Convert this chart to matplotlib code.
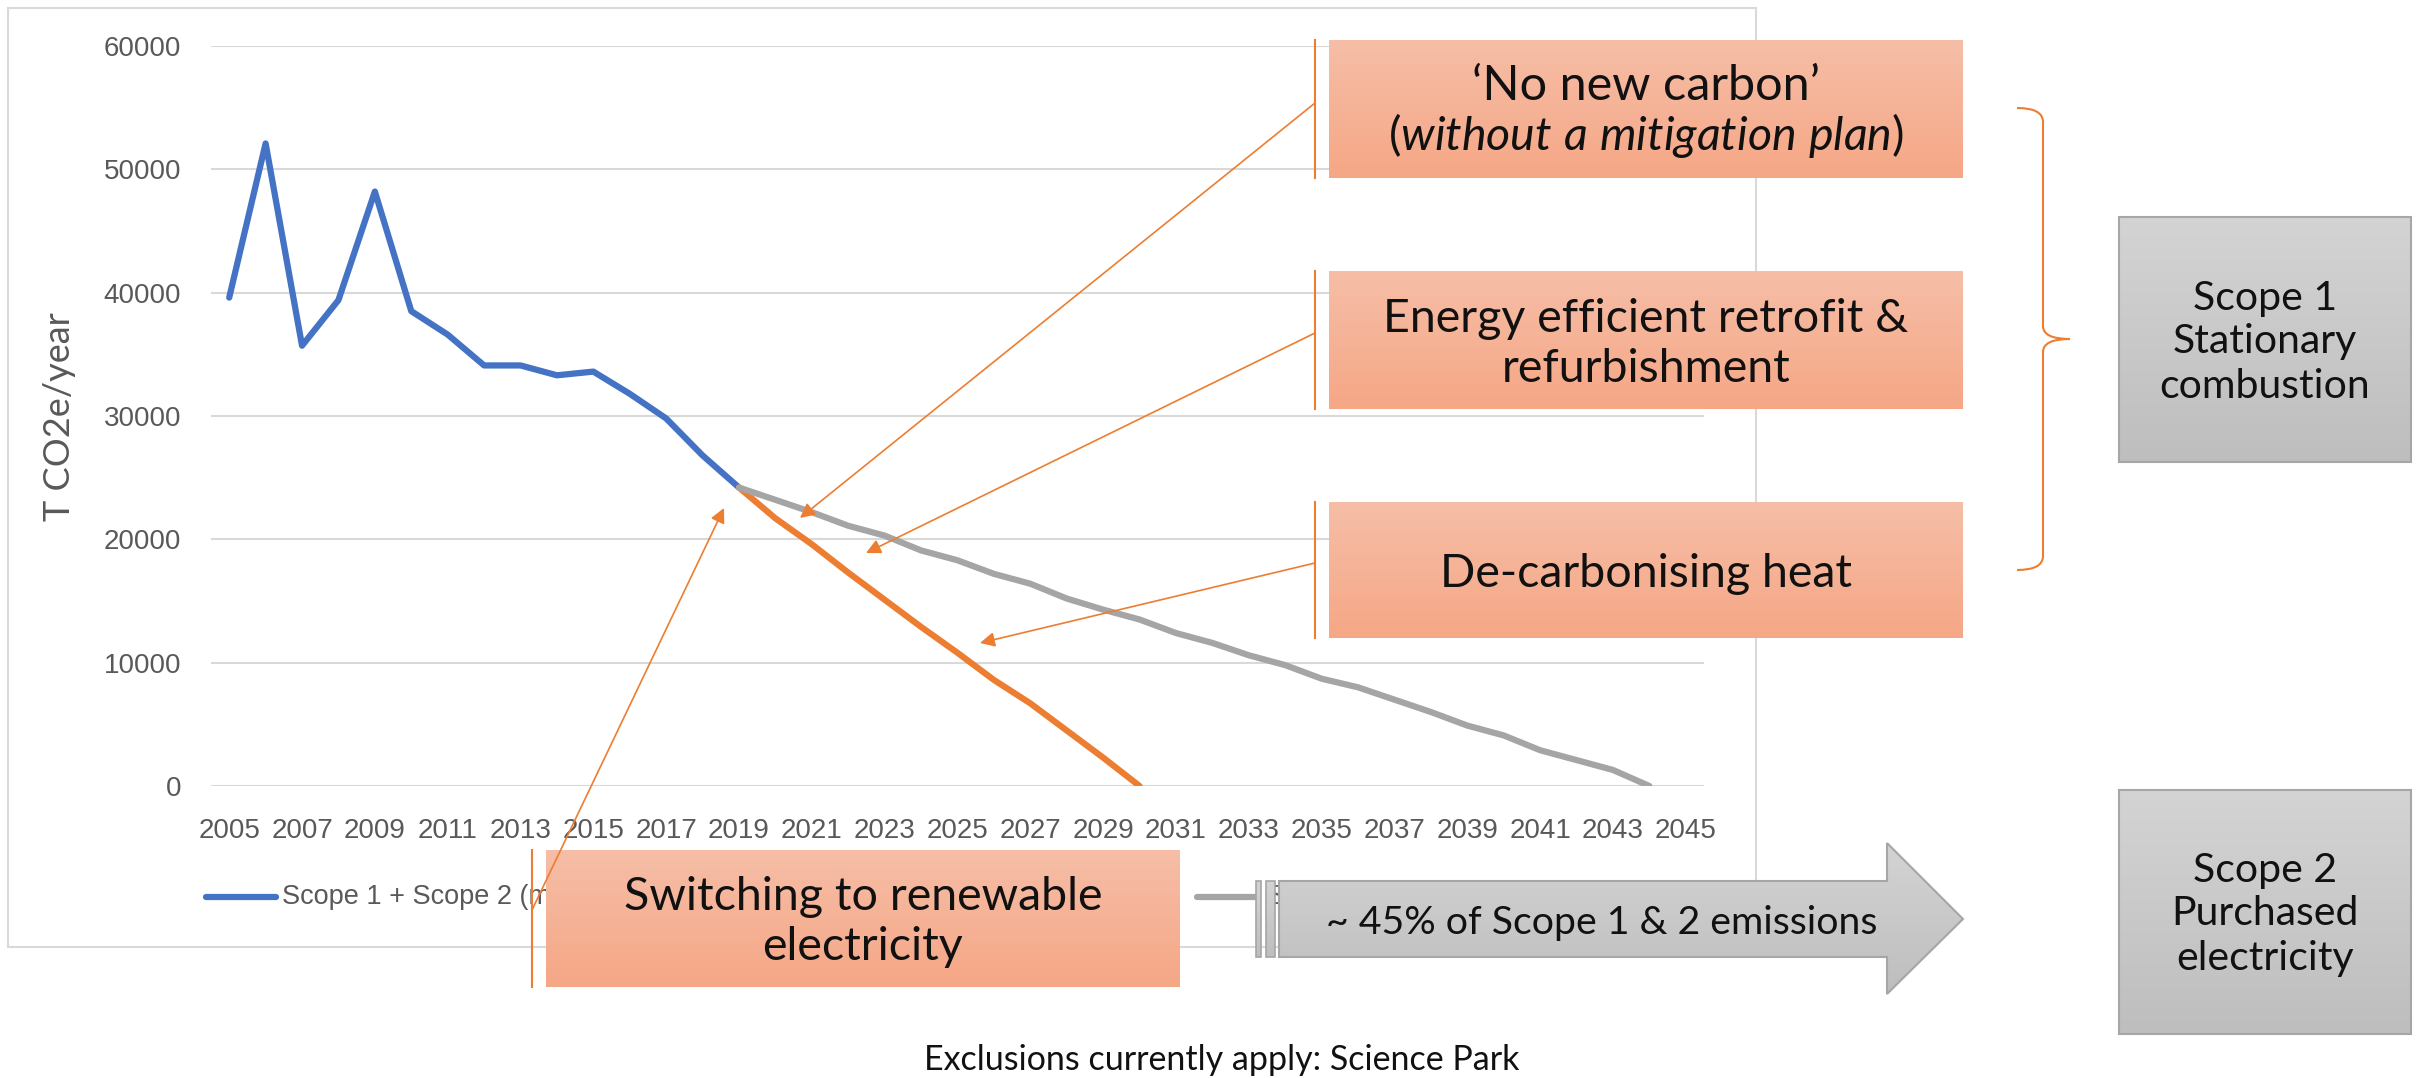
import matplotlib
matplotlib.use("Agg")
import matplotlib.pyplot as plt
import numpy as np
from matplotlib.lines import Line2D
from matplotlib.patches import Polygon, PathPatch, Rectangle
from matplotlib.path import Path

W, H = 2420, 1078

# data (t CO2e / year)
years = list(range(2005, 2046))
measured_years = list(range(2005, 2020))
measured = [39600, 52100, 35700, 39400, 48200, 38500, 36600, 34100, 34100,
            33300, 33600, 31800, 29800, 26800, 24200]
target_years = list(range(2019, 2031))
target = [24200, 21700, 19600, 17300, 15100, 12900, 10800, 8600, 6700,
          4500, 2300, 0]
bau_years = list(range(2019, 2045))
bau = [24200, 23200, 22200, 21100, 20300, 19100, 18300, 17200, 16400, 15200,
       14300, 13500, 12400, 11600, 10600, 9800, 8700, 8000, 7000, 6000, 4900,
       4100, 2900, 2100, 1300, 0]
tick_years = years[::2]
y_ticks = [0, 10000, 20000, 30000, 40000, 50000, 60000]
# legend entries as far as they show from behind the shapes
legend_labels = ["Scope 1 + Scope 2 (m", "S"]

BLUE = "#4472C4"
ORANGE = "#ED7D31"
GREY_LINE = "#A5A5A5"
TEXT = "#595959"
GRID = "#D9D9D9"
PEACH_TOP = (0.965, 0.745, 0.655)
PEACH_BOT = (0.961, 0.655, 0.525)
GREY_TOP = (0.83, 0.83, 0.83)
GREY_BOT = (0.745, 0.745, 0.745)
GREY_EDGE = "#A6A6A6"

plt.rcParams["font.family"] = ["Liberation Sans", "DejaVu Sans"]
plt.rcParams["mathtext.fontset"] = "custom"
plt.rcParams["mathtext.rm"] = "Lato"
plt.rcParams["mathtext.it"] = "Lato:italic"

fig = plt.figure(figsize=(W / 100, H / 100), dpi=100)

# background layer in pixel coordinates (chart frame + legend)
bg = fig.add_axes([0, 0, 1, 1], zorder=0)
bg.set_xlim(0, W)
bg.set_ylim(H, 0)
bg.axis("off")

# the chart itself
ax = fig.add_axes([211 / W, 1 - 786 / H, 1493 / W, 740 / H], zorder=1)
ax.patch.set_alpha(0)


def idx(ys):
    return [y - years[0] for y in ys]


lw = 4.5
ax.plot(idx(measured_years), measured, color=BLUE, lw=lw,
        solid_capstyle="round", solid_joinstyle="round", zorder=3)
ax.plot(idx(target_years), target, color=ORANGE, lw=lw,
        solid_capstyle="round", solid_joinstyle="round", zorder=3)
ax.plot(idx(bau_years), bau, color=GREY_LINE, lw=lw,
        solid_capstyle="round", solid_joinstyle="round", zorder=3)

ax.set_xlim(-0.5, len(years) - 0.5)
ax.set_ylim(0, 60000)
ax.set_xticks(idx(tick_years))
ax.set_xticklabels([str(y) for y in tick_years])
ax.set_yticks(y_ticks)
ax.set_yticklabels([str(v) for v in y_ticks])
ax.tick_params(axis="both", length=0, labelsize=20, labelcolor=TEXT)
ax.tick_params(axis="x", pad=23)
ax.tick_params(axis="y", pad=21.5)
ax.yaxis.grid(True, color=GRID, lw=1.5)
ax.set_axisbelow(True)
for s in ax.spines.values():
    s.set_visible(False)

# chart frame
bg.add_patch(Rectangle((8, 8), 1748, 939, fill=False, ec=GRID, lw=1.5, zorder=1))
bg.text(60, 417, "T CO2e/year", rotation=90, ha="center", va="center",
        fontsize=26, color=TEXT, family=["Lato", "DejaVu Sans"])

# legend (mostly hidden behind the shapes, as in the slide)
for (x0, x1, tx), col, lab in zip([(206, 276, 282), (1197, 1258, 1268)],
                                   [BLUE, GREY_LINE], legend_labels):
    bg.add_line(Line2D([x0, x1], [897, 897], color=col, lw=lw,
                       solid_capstyle="round", zorder=2))
    bg.text(tx, 897, lab, fontsize=19.5, color=TEXT, va="center", ha="left", zorder=2)

# top layer: call-out shapes
top = fig.add_axes([0, 0, 1, 1], zorder=2)
top.axis("off")


def grad_fill(x0, y0, x1, y1, c_top, c_bot, clip=None, z=3):
    t = np.linspace(0, 1, 64)[:, None]
    rgb = (1 - t) * np.array(c_top) + t * np.array(c_bot)
    im = top.imshow(rgb[:, None, :], extent=(x0, x1, y1, y0), aspect="auto",
                    interpolation="bilinear", zorder=z)
    if clip is not None:
        im.set_clip_path(clip)
    return im


box_font = ["Lato", "DejaVu Sans"]
INK = "#111111"

# orange action boxes: (x0, y0, x1, y1)
action_boxes = [(1329, 40, 1963, 178), (1329, 271, 1963, 409),
                (1329, 502, 1963, 638), (546, 850, 1180, 987)]
for (x0, y0, x1, y1) in action_boxes:
    grad_fill(x0, y0, x1, y1, PEACH_TOP, PEACH_BOT)
    lx = x0 - 14
    top.add_line(Line2D([lx, lx], [y0, y1], color=ORANGE, lw=1.5, zorder=3))

fs_box = 33.5
top.text(1646, 100, "\u2018No new carbon\u2019", ha="center", va="baseline",
         fontsize=35, family=box_font, color=INK, zorder=5)
top.text(1646, 150, r"($\mathit{without\ a\ mitigation\ plan}$)", ha="center",
         va="baseline", fontsize=fs_box, family=box_font, color=INK, zorder=5)
top.text(1646, 332, "Energy efficient retrofit &", ha="center", va="baseline",
         fontsize=fs_box, family=box_font, color=INK, zorder=5)
top.text(1646, 382, "refurbishment", ha="center", va="baseline",
         fontsize=fs_box, family=box_font, color=INK, zorder=5)
top.text(1646, 587, "De-carbonising heat", ha="center", va="baseline",
         fontsize=fs_box, family=box_font, color=INK, zorder=5)
top.text(863, 910, "Switching to renewable", ha="center", va="baseline",
         fontsize=fs_box, family=box_font, color=INK, zorder=5)
top.text(863, 960, "electricity", ha="center", va="baseline",
         fontsize=fs_box, family=box_font, color=INK, zorder=5)

# call-out arrows: (start on the orange rule, tip in the chart)
callouts = [((1315, 103), (800, 518)), ((1315, 333), (866, 553)),
            ((1315, 563), (980, 643)), ((532, 910), (724, 508))]
for start, tip in callouts:
    top.annotate("", xy=tip, xytext=start, zorder=4,
                 arrowprops=dict(arrowstyle="-|>", color=ORANGE, lw=1.2,
                                 mutation_scale=22, shrinkA=0, shrinkB=0))

# grey scope boxes
scope_boxes = [((2119, 217, 2411, 462), ["Scope 1", "Stationary", "combustion"], [310, 353, 398]),
               ((2119, 790, 2411, 1034), ["Scope 2", "Purchased", "electricity"], [882, 925, 970])]
fs_small = 29.5
for (x0, y0, x1, y1), lines, bases in scope_boxes:
    grad_fill(x0, y0, x1, y1, GREY_TOP, GREY_BOT)
    top.add_patch(Rectangle((x0, y0), x1 - x0, y1 - y0, fill=False, ec=GREY_EDGE,
                            lw=1.5, zorder=4))
    for s, b in zip(lines, bases):
        top.text((x0 + x1) / 2, b, s, ha="center", va="baseline", fontsize=fs_small,
                 family=box_font, color=INK, zorder=5)

# striped grey arrow
arrow_pts = [(1279, 881), (1887, 881), (1887, 843), (1963, 919),
             (1887, 994), (1887, 957), (1279, 957)]
arrow_patch = Polygon(arrow_pts, closed=True, fc="none", ec=GREY_EDGE, lw=1.5, zorder=4)
top.add_patch(arrow_patch)
grad_fill(1279, 843, 1963, 994, GREY_TOP, GREY_BOT, clip=arrow_patch)
for (bx0, bx1) in [(1256, 1261), (1266, 1275)]:
    grad_fill(bx0, 881, bx1, 957, GREY_TOP, GREY_BOT)
    top.add_patch(Rectangle((bx0, 881), bx1 - bx0, 76, fill=False, ec=GREY_EDGE,
                            lw=1.2, zorder=4))
top.text(1602, 934, "~ 45% of Scope 1 & 2 emissions", ha="center", va="baseline",
         fontsize=28.3, family=box_font, color=INK, zorder=5)

# curly bracket grouping the Scope 1 actions
bx, mx = 2043, 2070
brace = Path([(2017, 108), (bx, 108), (bx, 122), (bx, 326), (bx, 339), (mx, 339),
              (bx, 339), (bx, 352), (bx, 556), (bx, 570), (2017, 570)],
             [Path.MOVETO, Path.CURVE3, Path.CURVE3, Path.LINETO, Path.CURVE3,
              Path.CURVE3, Path.CURVE3, Path.CURVE3, Path.LINETO, Path.CURVE3,
              Path.CURVE3])
top.add_patch(PathPatch(brace, fill=False, ec=ORANGE, lw=1.5, zorder=4))

top.text(1222, 1070, "Exclusions currently apply: Science Park", ha="center",
         va="baseline", fontsize=24.5, family=box_font, color=INK, zorder=5)

top.set_xlim(0, W)
top.set_ylim(H, 0)

fig.savefig("out.png", dpi=100)
